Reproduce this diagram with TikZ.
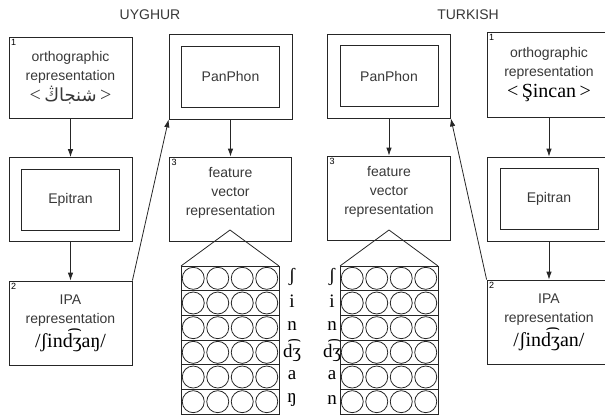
\documentclass[tikz,border=0pt]{standalone}
\usepackage{fontspec}
\setmainfont{Liberation Sans}
\newfontfamily\ipafont{Liberation Serif}
\newfontfamily\arabicfont[Script=Arabic]{DejaVu Sans}
\TeXXeTstate=1
\usetikzlibrary{arrows.meta}
\usetikzlibrary{positioning}
\usetikzlibrary{calc}
\definecolor{ink}{gray}{0.22}
\tikzstyle{stage}=[draw, minimum width=123pt, minimum height=84pt, inner sep=0pt, align=center, text=ink, font=\fontsize{14}{19}\selectfont]
\tikzstyle{toolout}=[draw, minimum width=123pt, minimum height=84pt, inner sep=0pt]
\tikzstyle{toolin}=[draw, minimum width=98pt, minimum height=61pt, inner sep=0pt, text=ink, font=\fontsize{14}{19}\selectfont]
\tikzstyle{num}=[anchor=north west, inner sep=0pt, font=\fontsize{9}{9}\selectfont]
\tikzstyle{title}=[text=ink, font=\fontsize{14}{14}\selectfont]
\tikzstyle{seg}=[inner sep=0pt, font=\ipafont\fontsize{19}{19}\selectfont]
\tikzstyle{edge} = [draw,->]

\begin{document}
\begin{tikzpicture}[x=1pt, y=-1pt, line width=0.8pt, >={Latex[length=8pt,width=5.5pt]}, draw=black!85]
  \useasboundingbox (0,0) rectangle (605,418);

  % UYGHUR
  \node[title] (ugtitle) at (150,15) {UYGHUR};

  \node[stage, minimum height=81pt] (ugorth) at (70.5,77.5) {orthographic\\representation\\[2pt]
    {\ipafont\fontsize{20}{20}\selectfont <\,}{\arabicfont\fontsize{18}{20}\selectfont\beginR شنجاڭ\endR}{\ipafont\fontsize{20}{20}\selectfont\,>}};
  \node[num] (ugorthnum) at ($(ugorth.north west)+(2,2)$) {1};

  \node[toolout] (ugepi) at (70.5,199.5) {};
  \node[toolin] (ugepiin) at (ugepi) {Epitran};

  \node[stage] (ugipa) at (70.5,323) {IPA\\representation\\[2pt] \textcolor{black}{\ipafont\fontsize{20}{20}\selectfont /ʃind͡ʒaŋ/}};
  \node[num] (ugipanum) at ($(ugipa.north west)+(2,2)$) {2};

  \node[toolout, minimum height=85pt] (ugpan) at (230.5,76.5) {};
  \node[toolin] (ugpanin) at (ugpan) {PanPhon};

  \node[stage, minimum width=122pt] (ugfeat) at (230.5,199) {};
  \node[stage, draw=none, minimum height=0pt] (ugfeattxt) at (230.5,193) {feature\\vector\\representation};
  \node[num] (ugfeatnum) at ($(ugfeat.north west)+(2,2)$) {3};

  \draw[->] (ugorth.south) -- (ugepi.north);
  \draw[->] (ugepi.south) -- (ugipa.north);
  \draw[->] (ugipa.north east) -- (ugpan.south west);
  \draw[->] (ugpan.south) -- (ugfeat.north);

  % feature vectors, one row per segment
  \coordinate (ugapex) at (230,230);
  \coordinate (uggridnw) at (181,266);
  \coordinate (uggridne) at (279,266);
  \draw (uggridnw) -- (ugapex) -- (uggridne);
  \foreach \r in {0,...,5} {
    \draw (181,266+\r*24.67) rectangle ++(98,24.67);
    \foreach \c in {0,...,3}
      \draw (181+12.25+\c*24.5, 266+12.33+\r*24.67) circle (11pt);
  }
  \foreach \seg [count=\i] in {ʃ,i,n,d͡ʒ,a,ŋ}
    \node[seg] (ugseg\i) at (292, 266+10.5+\i*24.67-24.67) {\seg};

  % TURKISH
  \node[title] (trtitle) at (468,15) {TURKISH};

  \node[stage, minimum width=124pt, minimum height=85pt] (trorth) at (549,74.5) {orthographic\\representation\\[2pt]
    \textcolor{black}{\ipafont\fontsize{20}{20}\selectfont <\,Şincan\,>}};
  \node[num] (trorthnum) at ($(trorth.north west)+(2,2)$) {1};

  \node[toolout, minimum width=124pt] (trepi) at (549,199) {};
  \node[toolin] (trepiin) at (trepi) {Epitran};

  \node[stage, minimum width=124pt] (tripa) at (549,322) {IPA\\representation\\[2pt] \textcolor{black}{\ipafont\fontsize{20}{20}\selectfont /ʃind͡ʒan/}};
  \node[num] (tripanum) at ($(tripa.north west)+(2,2)$) {2};

  \node[toolout] (trpan) at (389,76) {};
  \node[toolin] (trpanin) at (trpan) {PanPhon};

  \node[stage] (trfeat) at (389,198) {};
  \node[stage, draw=none, minimum height=0pt] (trfeattxt) at (389,192) {feature\\vector\\representation};
  \node[num] (trfeatnum) at ($(trfeat.north west)+(2,2)$) {3};

  \draw[->] (trorth.south) -- (trepi.north);
  \draw[->] (trepi.south) -- (tripa.north);
  \draw[->] (tripa.north west) -- (trpan.south east);
  \draw[->] (trpan.south) -- (trfeat.north);

  \coordinate (trapex) at (389,230);
  \coordinate (trgridnw) at (340,266);
  \coordinate (trgridne) at (438,266);
  \draw (trgridnw) -- (trapex) -- (trgridne);
  \foreach \r in {0,...,5} {
    \draw (340,266+\r*24.67) rectangle ++(98,24.67);
    \foreach \c in {0,...,3}
      \draw (340+12.25+\c*24.5, 266+12.33+\r*24.67) circle (11pt);
  }
  \foreach \seg [count=\i] in {ʃ,i,n,d͡ʒ,a,n}
    \node[seg] (trseg\i) at (332, 266+10.5+\i*24.67-24.67) {\seg};

\end{tikzpicture}
\end{document}
